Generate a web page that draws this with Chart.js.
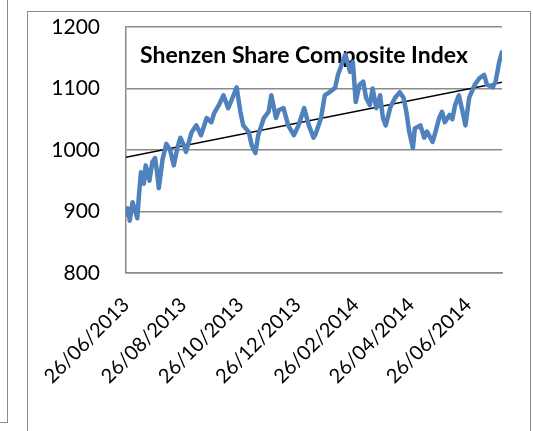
<!DOCTYPE html>
<html>
<head>
<meta charset="utf-8">
<script src="https://cdn.jsdelivr.net/npm/chart.js@4"></script>
<style>
  html, body { margin: 0; padding: 0; background: #fff; }
  body { width: 533px; height: 431px; position: relative; overflow: hidden; }
  #prevFrame { position: absolute; left: -10px; top: -10px; width: 17px; height: 432px;
    border-right: 1.5px solid #8a8a8a; border-bottom: 1.5px solid #8a8a8a; }
  #frame { position: absolute; left: 27px; top: 11px; width: 502px; height: 440px;
    border: 1.5px solid #8a8a8a; }
  canvas { position: absolute; left: 0; top: 0; }
</style>
</head>
<body>
<div id="prevFrame"></div>
<div id="frame"></div>
<canvas id="chart" width="533" height="431"></canvas>
<script>
// days counted from 26/06/2013
const startDate = Date.UTC(2013, 5, 26);
const dayOffsets = [
  0, 2, 4, 7, 10, 12, 14, 16, 19, 21, 25, 28, 31, 33, 35, 39, 43, 47, 51, 55,
  58, 61, 64, 70, 75, 80, 86, 91, 94, 99, 104, 109, 115, 118, 122, 125, 131, 134, 138, 141,
  147, 152, 155, 160, 163, 168, 173, 179, 184, 190, 195, 200, 202, 208, 212, 217, 223, 226, 231, 234,
  239, 242, 245, 249, 253, 256, 260, 263, 267, 271, 274, 277, 282, 287, 292, 296, 299, 302, 306, 308,
  314, 318, 321, 327, 330, 334, 337, 340, 345, 348, 351, 355, 359, 362, 366, 372, 377, 382, 385, 391,
  394, 398, 401
];
const indexValues = [
  895, 905, 885, 915, 900, 889, 930, 964, 945, 975, 950, 980, 987, 965, 938, 985, 1010, 1000, 975, 1005,
  1020, 1010, 997, 1029, 1040, 1024, 1052, 1045, 1060, 1073, 1089, 1068, 1090, 1102, 1062, 1040, 1029, 1008, 995, 1024,
  1052, 1062, 1089, 1052, 1065, 1068, 1040, 1024, 1040, 1068, 1040, 1020, 1025, 1052, 1089, 1094, 1101, 1122, 1143, 1155,
  1127, 1143, 1078, 1106, 1111, 1085, 1073, 1100, 1068, 1089, 1052, 1040, 1070, 1085, 1094, 1085, 1062, 1030, 1003, 1035,
  1040, 1020, 1030, 1013, 1029, 1052, 1062, 1045, 1057, 1050, 1073, 1089, 1062, 1040, 1085, 1106, 1117, 1122, 1106, 1102,
  1110, 1143, 1159
];
// linear trendline values at the first and last date
const trendEnds = [988, 1110];
const tickLabels = ['26/06/2013', '26/08/2013', '26/10/2013', '26/12/2013', '26/02/2014', '26/04/2014', '26/06/2014'];
const yTicks = [800, 900, 1000, 1100, 1200];
const chartTitle = 'Shenzen Share Composite Index';

function dayOf(label) {
  const p = label.split('/');
  return Math.round((Date.UTC(+p[2], +p[1] - 1, +p[0]) - startDate) / 86400000);
}
const tickDays = tickLabels.map(dayOf);
const lastDay = dayOffsets[dayOffsets.length - 1];
const trendPoints = [{ x: 0, y: trendEnds[0] }, { x: lastDay, y: trendEnds[1] }];

const titlePlugin = {
  id: 'insideTitle',
  beforeDatasetsDraw(chart) {
    const ctx = chart.ctx, a = chart.chartArea;
    ctx.save();
    ctx.font = 'bold 23px Lato';
    ctx.fillStyle = '#000';
    ctx.textBaseline = 'middle';
    ctx.fillText(chartTitle, a.left + 14, a.top + 29);
    ctx.restore();
  }
};

new Chart(document.getElementById('chart'), {
  type: 'line',
  data: {
    datasets: [{
      data: dayOffsets.map((d, i) => ({ x: d, y: indexValues[i] })),
      borderColor: '#4F81BD',
      borderWidth: 4.5,
      pointRadius: 0,
      tension: 0,
      borderJoinStyle: 'round',
      borderCapStyle: 'round'
    }, {
      data: trendPoints,
      borderColor: '#000',
      borderWidth: 1.5,
      pointRadius: 0
    }]
  },
  options: {
    responsive: false,
    animation: false,
    layout: { padding: { top: 27, right: 31, left: 0, bottom: 0 } },
    plugins: { legend: { display: false }, tooltip: { enabled: false } },
    scales: {
      x: {
        type: 'linear',
        min: 0,
        max: lastDay,
        afterBuildTicks(scale) { scale.ticks = tickDays.map(v => ({ value: v })); },
        afterFit(scale) { scale.height = 158; },
        grid: { display: false, drawTicks: false },
        border: { display: true, color: '#8a8a8a', width: 1.5 },
        ticks: {
          autoSkip: false,
          minRotation: 45,
          maxRotation: 45,
          padding: 20,
          color: '#000',
          font: { family: 'Lato', size: 20 },
          callback: v => tickLabels[tickDays.indexOf(v)] || ''
        }
      },
      y: {
        min: 800,
        max: 1200,
        afterBuildTicks(scale) { scale.ticks = yTicks.map(v => ({ value: v })); },
        afterFit(scale) {
          scale.width = 126;
          scale.paddingTop = 0;
          scale.paddingBottom = 0;
        },
        grid: { color: '#8a8a8a', lineWidth: 1.5, drawTicks: false },
        border: { display: true, color: '#8a8a8a', width: 1.5 },
        ticks: {
          padding: 26,
          color: '#000',
          font: { family: 'Lato', size: 21 },
          callback: v => String(v)
        }
      }
    }
  },
  plugins: [titlePlugin]
});
</script>
</body>
</html>
